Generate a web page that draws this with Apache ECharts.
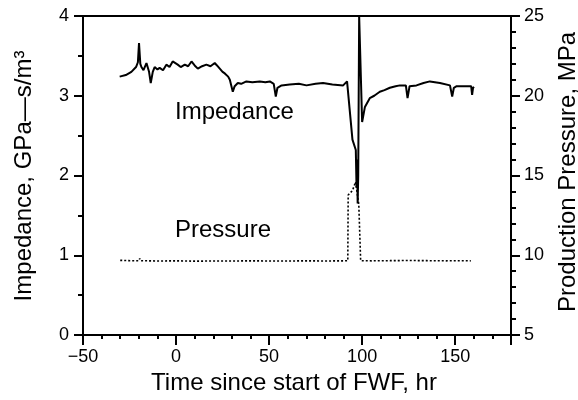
<!DOCTYPE html>
<html>
<head>
<meta charset="utf-8">
<script src="https://cdn.jsdelivr.net/npm/echarts@6/dist/echarts.min.js"></script>
<style>html,body{margin:0;padding:0;background:#fff}#c{width:578px;height:400px}</style>
</head>
<body>
<div id="c"></div>
<script>
// Impedance (GPa-s/m^3) vs time (hr)
const impTime = [-30.3,-27,-24,-23.3,-21.5,-20.5,-19.9,-19.2,-18.6,-17.5,-15.9,-14.5,-13.6,-12.5,-11.5,-10,-8.8,-7,-5.2,-3.5,-1.8,0.9,2.5,4.7,6.5,8.3,10,11.7,14,16.3,18.5,20.8,22,23.5,25,26.2,28,28.9,30.5,31.5,33.2,35,37.8,41,45,48,50.4,52.5,53.6,54.5,56.7,61.1,66,70.1,75,79,84,89.8,91.9,94.8,96.6,97,97.3,97.6,97.9,98.4,100.0,101.5,104.1,106.5,109.5,112,114.9,118,120.3,123.5,124.4,125.5,129.2,133,136.4,141.8,147.2,148.4,149.3,150.8,156.1,158.6,159.1,159.6,160.2];
const impValue = [3.24,3.26,3.30,3.31,3.36,3.42,3.66,3.40,3.36,3.32,3.41,3.30,3.16,3.30,3.36,3.33,3.35,3.32,3.39,3.36,3.43,3.39,3.36,3.39,3.37,3.43,3.38,3.34,3.37,3.39,3.37,3.41,3.38,3.34,3.30,3.28,3.24,3.20,3.05,3.12,3.16,3.15,3.18,3.17,3.18,3.17,3.18,3.15,2.99,3.10,3.13,3.14,3.15,3.13,3.15,3.16,3.14,3.13,3.18,2.45,2.32,1.85,2.2,1.65,2.0,4.0,2.67,2.86,2.97,3.00,3.05,3.07,3.10,3.12,3.13,3.13,2.97,3.12,3.13,3.16,3.18,3.16,3.13,2.99,3.10,3.12,3.12,3.12,3.01,3.10,3.11];
// Production pressure (MPa) vs time (hr)
const presTime = [-30,-25,-20,-19.5,-19,-10,0,10,20,30,40,50,60,70,80,90,92.3,92.5,94.8,96.5,98.2,98.8,99.2,105,115,125,135,145,155,158.4];
const presValue = [9.68,9.66,9.65,9.8,9.66,9.64,9.65,9.63,9.64,9.64,9.65,9.64,9.64,9.65,9.64,9.65,9.66,13.78,14.05,14.6,13.2,13.1,9.66,9.65,9.66,9.67,9.66,9.65,9.66,9.65];
// Axis settings
const xMin = -50, xMax = 180, xStep = 50, xMinorStep = 10;
const yLeftMin = 0, yLeftMax = 4, yLeftStep = 1, yLeftMinorStep = 0.5;
const yRightMin = 5, yRightMax = 25, yRightStep = 5;
const xTitle = 'Time since start of FWF, hr';
const yLeftTitle = 'Impedance, GPa\u2014s/m\u00B3';
const yRightTitle = 'Production Pressure, MPa';
const labelImp = 'Impedance';
const labelPres = 'Pressure';

const FONT = '"Liberation Sans", Arial, sans-serif';
const chart = echarts.init(document.getElementById('c'), null, {renderer: 'canvas'});
const lineSty = {color: '#000', width: 2};
const hidden = {axisLine: {show: false, onZero: false}, axisLabel: {show: false}, splitLine: {show: false}};
// Tick-only helper axes: placed outside the frame by `offset`, ticks pointing back to the frame
const xTickAxis = (step, len) => Object.assign({type: 'value', min: xMin, max: xMax, interval: step, position: 'bottom', offset: len,
  axisTick: {show: true, inside: true, length: len, lineStyle: lineSty}}, hidden);
const yTickAxis = (step, len) => Object.assign({type: 'value', min: yLeftMin, max: yLeftMax, interval: step, position: 'left', offset: len,
  axisTick: {show: true, inside: true, length: len, lineStyle: lineSty}}, hidden);
chart.setOption({
  animation: false,
  backgroundColor: '#fff',
  grid: {left: 83, right: 67, top: 16, bottom: 65},
  xAxis: [{
    type: 'value', min: xMin, max: xMax, interval: xStep, position: 'bottom',
    axisLine: {show: true, onZero: false, lineStyle: lineSty},
    axisTick: {show: false},
    axisLabel: {show: true, color: '#000', fontSize: 18, fontFamily: FONT, margin: 13, showMaxLabel: false,
      formatter: v => (v === xMax ? '' : (v < 0 ? '\u2212' + Math.abs(v) : String(v)))},
    splitLine: {show: false}
  }, {
    type: 'value', min: xMin, max: xMax, interval: xStep, position: 'top',
    axisLine: {show: true, onZero: false, lineStyle: lineSty},
    axisTick: {show: false}, axisLabel: {show: false}, splitLine: {show: false}
  },
  xTickAxis(xStep, 10),
  xTickAxis(xMinorStep, 4)
  ],
  yAxis: [{
    type: 'value', min: yLeftMin, max: yLeftMax, interval: yLeftStep, position: 'left',
    axisLine: {show: true, onZero: false, lineStyle: lineSty},
    axisTick: {show: false},
    axisLabel: {show: true, color: '#000', fontSize: 18, fontFamily: FONT, margin: 14},
    splitLine: {show: false}
  }, {
    type: 'value', min: yRightMin, max: yRightMax, interval: yRightStep, position: 'right',
    axisLine: {show: true, onZero: false, lineStyle: lineSty},
    axisTick: {show: true, inside: false, length: 9, lineStyle: lineSty},
    minorTick: {show: true, splitNumber: 5, length: 5, lineStyle: lineSty},
    axisLabel: {show: true, color: '#000', fontSize: 18, fontFamily: FONT, margin: 13},
    splitLine: {show: false}, minorSplitLine: {show: false}
  },
  yTickAxis(yLeftStep, 9),
  yTickAxis(yLeftMinorStep, 5)
  ],
  series: [{
    type: 'line', xAxisIndex: 0, yAxisIndex: 0, showSymbol: false,
    data: impTime.map((t, i) => [t, impValue[i]]),
    lineStyle: {color: '#000', width: 2}
  }, {
    type: 'line', xAxisIndex: 0, yAxisIndex: 1, showSymbol: false,
    data: presTime.map((t, i) => [t, presValue[i]]),
    lineStyle: {color: '#000', width: 1.6, type: [2, 2]}
  }],
  graphic: [
    {type: 'text', x: 294, y: 383, style: {text: xTitle, font: '24px ' + FONT, fill: '#000', textAlign: 'center', textVerticalAlign: 'middle'}},
    {type: 'text', x: 24, y: 176, rotation: Math.PI / 2, style: {text: yLeftTitle, font: '24px ' + FONT, fill: '#000', textAlign: 'center', textVerticalAlign: 'middle'}},
    {type: 'text', x: 568, y: 172, rotation: Math.PI / 2, style: {text: yRightTitle, font: '24px ' + FONT, fill: '#000', textAlign: 'center', textVerticalAlign: 'middle'}},
    {type: 'text', x: 175, y: 112, style: {text: labelImp, font: '24px ' + FONT, fill: '#000', textAlign: 'left', textVerticalAlign: 'middle'}},
    {type: 'text', x: 175, y: 230, style: {text: labelPres, font: '24px ' + FONT, fill: '#000', textAlign: 'left', textVerticalAlign: 'middle'}}
  ]
});
</script>
</body>
</html>
